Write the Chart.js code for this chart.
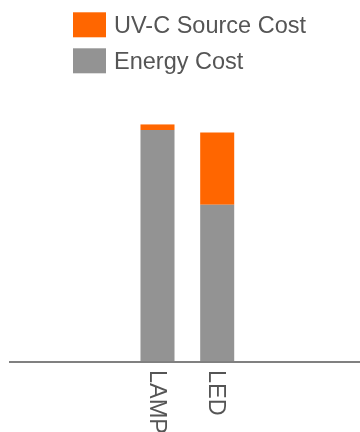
<!DOCTYPE html>
<html>
<head>
<meta charset="utf-8">
<script src="https://cdn.jsdelivr.net/npm/chart.js@4.4.0/dist/chart.umd.min.js"></script>
<style>
  html, body { margin: 0; padding: 0; background: #fff; overflow: hidden; }
</style>
</head>
<body>
<canvas id="costChart" width="360" height="432"></canvas>
<script>
const categories = ['LAMP', 'LED'];
const energyCost = [97.6, 66.2];
const uvcSourceCost = [2.4, 30.3];

const ORANGE = '#ff6600';
const GREY = '#939393';
const TEXT = '#555555';
const FONT = '"Liberation Sans", Arial, sans-serif';

// baseline, rotated category labels and the legend are drawn by hand
const decorations = {
  id: 'decorations',
  afterDatasetsDraw(chart) {
    const { ctx } = chart;
    const x = chart.scales.x;
    const base = chart.scales.y.getPixelForValue(0);

    ctx.save();
    ctx.strokeStyle = '#808080';
    ctx.lineWidth = 2;
    ctx.beginPath();
    ctx.moveTo(9, base);
    ctx.lineTo(chart.width, base);
    ctx.stroke();

    ctx.fillStyle = TEXT;
    ctx.font = '23.5px ' + FONT;
    ctx.textAlign = 'left';
    ctx.textBaseline = 'middle';
    categories.forEach((label, i) => {
      ctx.save();
      ctx.translate(x.getPixelForValue(i) - 1.5, base + 8);
      ctx.rotate(Math.PI / 2);
      ctx.fillText(label, 0, 0);
      ctx.restore();
    });

    // top of the stack first
    chart.data.datasets.slice().reverse().forEach((ds, i) => {
      const top = 12.3 + i * 36;
      ctx.fillStyle = ds.backgroundColor;
      ctx.fillRect(73, top, 33, 25);
      ctx.fillStyle = TEXT;
      ctx.fillText(ds.label, 114, top + 14.3);
    });
    ctx.restore();
  },
};

new Chart(document.getElementById('costChart'), {
  type: 'bar',
  data: {
    labels: categories,
    datasets: [
      { label: 'Energy Cost', data: energyCost, backgroundColor: GREY },
      { label: 'UV-C Source Cost', data: uvcSourceCost, backgroundColor: ORANGE },
    ],
  },
  options: {
    responsive: false,
    animation: false,
    layout: {
      padding: { top: 124.3, bottom: 70, left: 127.65, right: 112.95 },
    },
    datasets: {
      bar: { barPercentage: 0.57, categoryPercentage: 1 },
    },
    plugins: {
      legend: { display: false },
      tooltip: { enabled: false },
    },
    scales: {
      x: { stacked: true, display: false },
      y: { stacked: true, display: false, min: 0, max: 100 },
    },
  },
  plugins: [decorations],
});
</script>
</body>
</html>
